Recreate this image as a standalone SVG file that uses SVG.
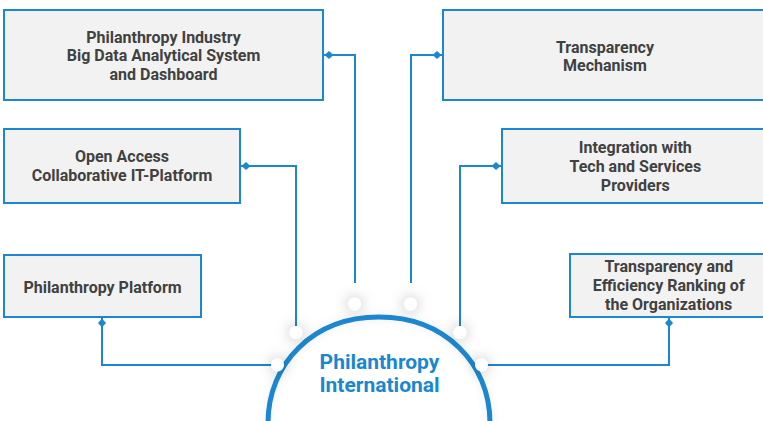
<svg xmlns="http://www.w3.org/2000/svg" width="763" height="421" viewBox="0 0 763 421">
<style>
.box{fill:#f2f2f2;stroke:#1a87d0;stroke-width:2}
.t{font-family:Roboto,"Liberation Sans",sans-serif;font-weight:bold;font-size:16px;fill:#414141;text-anchor:middle}
.c{font-family:Roboto,"Liberation Sans",sans-serif;font-weight:bold;font-size:21px;fill:#1a87d0;text-anchor:middle}
.ln{fill:none;stroke:#1a87d0;stroke-width:2}
.dot{fill:#ffffff}
</style>
<defs>
<marker id="dia" markerUnits="userSpaceOnUse" viewBox="-1 -5 13 10" markerWidth="13" markerHeight="10" refX="0" refY="0" orient="auto" overflow="visible">
<path d="M1.5,0 L6,-4 L10.5,0 L6,4 Z" fill="#1a87d0"/>
</marker>
<filter id="sh" x="-200%" y="-200%" width="500%" height="500%">
<feDropShadow dx="0" dy="0" stdDeviation="7" flood-color="#000" flood-opacity="0.3"/>
</filter>
<filter id="ash" x="-20%" y="-20%" width="140%" height="140%">
<feDropShadow dx="0" dy="0" stdDeviation="4" flood-color="#000" flood-opacity="0.08"/>
</filter>
</defs>

<g id="connectors">
<path class="ln" marker-start="url(#dia)" d="M323,55 H355 V283"/>
<path class="ln" marker-start="url(#dia)" d="M240,166 H296 V326"/>
<path class="ln" marker-start="url(#dia)" d="M102,317 V365 H277"/>
<path class="ln" marker-start="url(#dia)" d="M443,55 H411 V283"/>
<path class="ln" marker-start="url(#dia)" d="M502,166 H460 V326"/>
<path class="ln" marker-start="url(#dia)" d="M669,317 V365 H482"/>
</g>

<g id="node-center">
<path d="M268,421 C268,363.5 313,317 379,317 C445,317 490,363.5 490,421 Z" fill="#ffffff" stroke="none"/>
<path d="M268,423 C268,363.5 313,317 379,317 C445,317 490,363.5 490,423" fill="none" stroke="#1a87d0" stroke-width="5" filter="url(#ash)"/>
<g filter="url(#sh)">
<circle class="dot" cx="354.5" cy="304" r="6.5"/>
<circle class="dot" cx="410.5" cy="304" r="6.5"/>
<circle class="dot" cx="296" cy="332.5" r="6.5"/>
<circle class="dot" cx="460" cy="332.5" r="6.5"/>
<circle class="dot" cx="277.5" cy="365" r="6.5"/>
<circle class="dot" cx="481.5" cy="365" r="6.5"/>
</g>
<text class="c" x="379.5" y="368.5">Philanthropy</text>
<text class="c" x="379.5" y="392">International</text>
</g>

<g id="node-big-data">
<rect class="box" x="4" y="10" width="319" height="90"/>
<text class="t" x="163.5" y="42.5">Philanthropy Industry</text>
<text class="t" x="163.5" y="61">Big Data Analytical System</text>
<text class="t" x="163.5" y="79.5">and Dashboard</text>
</g>

<g id="node-open-access">
<rect class="box" x="4" y="129" width="236" height="74"/>
<text class="t" x="122" y="162.3">Open Access</text>
<text class="t" x="122" y="181.3">Collaborative IT-Platform</text>
</g>

<g id="node-platform">
<rect class="box" x="4" y="255" width="197" height="62"/>
<text class="t" x="102.5" y="292.5">Philanthropy Platform</text>
</g>

<g id="node-transparency">
<rect class="box" x="443" y="10" width="324" height="90"/>
<text class="t" x="605" y="52.5">Transparency</text>
<text class="t" x="605" y="71">Mechanism</text>
</g>

<g id="node-integration">
<rect class="box" x="502" y="129" width="265" height="74"/>
<text class="t" x="635.3" y="153.3">Integration with</text>
<text class="t" x="635.3" y="172">Tech and Services</text>
<text class="t" x="635.3" y="190.7">Providers</text>
</g>

<g id="node-ranking">
<rect class="box" x="570" y="254" width="197" height="63"/>
<text class="t" x="668.7" y="272.3">Transparency and</text>
<text class="t" x="668.7" y="291.3">Efficiency Ranking of</text>
<text class="t" x="668.7" y="310">the Organizations</text>
</g>
</svg>
